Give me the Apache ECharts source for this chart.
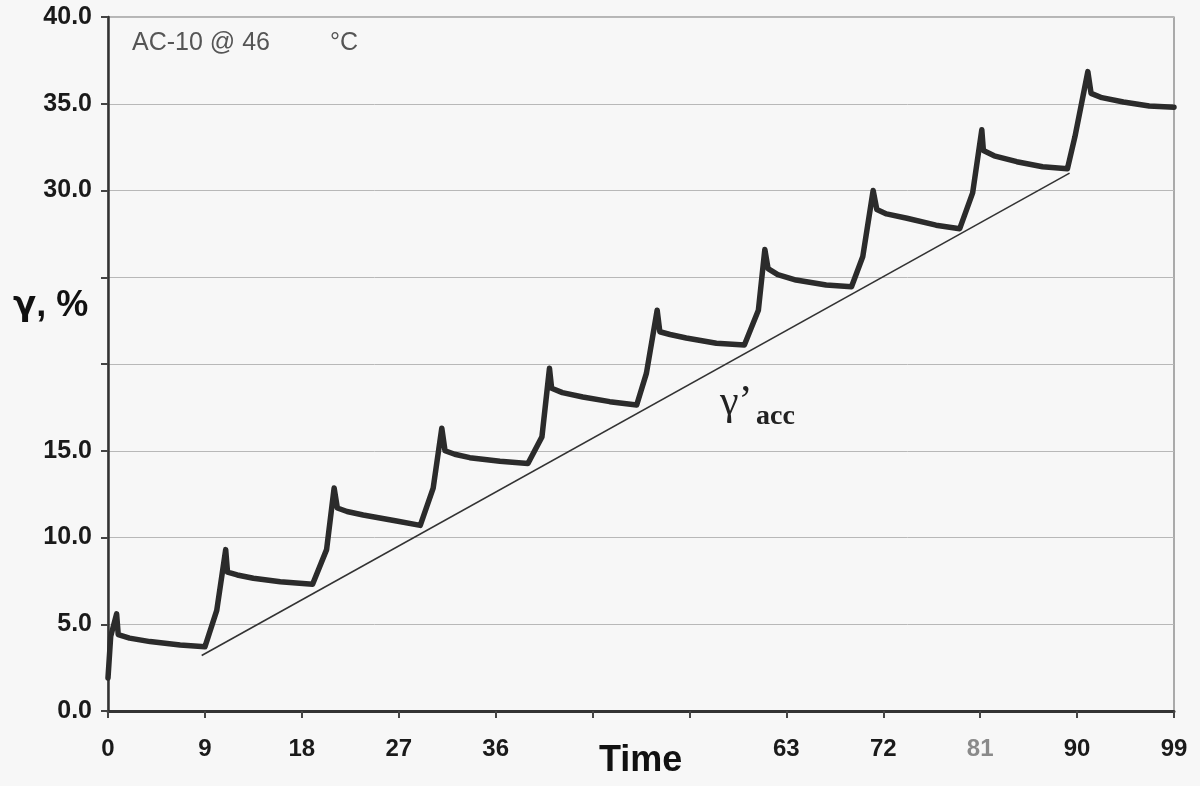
<!DOCTYPE html>
<html>
<head>
<meta charset="utf-8">
<script src="https://cdn.jsdelivr.net/npm/echarts/dist/echarts.min.js"></script>
<style>
  html, body { margin: 0; padding: 0; background: #f7f7f7; }
  #chart { width: 1200px; height: 786px; }
</style>
</head>
<body>
<div id="chart"></div>
<script>
// Shear strain under repeated creep-recovery cycles
const timeValues = [
  0, 0.25, 0.8, 0.95, 2.0, 3.9, 6.7, 9.0,
  10.1, 10.6, 10.93, 11.1, 12.0, 13.5, 16.0, 19.0,
  20.3, 21.0, 21.3, 22.2, 23.7, 26.8, 29.0,
  30.2, 31.0, 31.3, 32.2, 33.6, 36.4, 39.0,
  40.3, 41.0, 41.2, 42.2, 44.1, 46.6, 49.1,
  50.0, 51.0, 51.25, 52.2, 53.7, 56.5, 59.1,
  60.4, 61.0, 61.3, 62.2, 63.9, 66.7, 69.05,
  70.1, 71.06, 71.4, 72.3, 74.2, 76.9, 79.1,
  80.3, 81.15, 81.3, 82.3, 84.4, 86.8, 89.1,
  89.8, 91.0, 91.3, 92.3, 94.3, 96.7, 99.0
];
const strainValues = [
  1.9, 4.3, 5.6, 4.4, 4.2, 4.0, 3.8, 3.7,
  5.8, 7.9, 9.3, 8.0, 7.84, 7.65, 7.45, 7.3,
  9.3, 12.85, 11.7, 11.5, 11.3, 10.95, 10.7,
  12.85, 16.3, 15.0, 14.8, 14.6, 14.4, 14.27,
  15.8, 19.75, 18.6, 18.35, 18.1, 17.83, 17.64,
  19.46, 23.1, 21.86, 21.7, 21.5, 21.2, 21.1,
  23.1, 26.6, 25.5, 25.15, 24.84, 24.55, 24.45,
  26.2, 30.0, 28.9, 28.65, 28.4, 28.0, 27.8,
  29.86, 33.5, 32.3, 32.0, 31.66, 31.37, 31.25,
  33.1, 36.85, 35.6, 35.35, 35.1, 34.87, 34.8
];

// Accumulated strain trend line
const accTime = [8.7, 89.3];
const accStrain = [3.2, 31.0];

// Tick values whose labels are left blank
const hiddenXLabels = [45, 54];
const hiddenYLabels = [20, 25];
const dimXLabels = [81];

const curveData = timeValues.map((t, i) => [t, strainValues[i]]);
const accData = accTime.map((t, i) => [t, accStrain[i]]);

const chart = echarts.init(document.getElementById('chart'), null, { renderer: 'canvas' });

chart.setOption({
  backgroundColor: '#f7f7f7',
  animation: false,
  grid: {
    left: 108, right: 26, top: 17, bottom: 75,
    containLabel: false,
    outerBoundsMode: 'none',
    show: true, borderColor: '#777', borderWidth: 1.2, backgroundColor: 'transparent'
  },
  xAxis: {
    type: 'value',
    min: 0, max: 99, interval: 9,
    axisLine: { show: true, onZero: false, lineStyle: { color: '#333', width: 3 } },
    axisTick: { show: true, length: 7, lineStyle: { color: '#444', width: 2 } },
    splitLine: { show: false },
    axisLabel: {
      margin: 26,
      fontFamily: 'Liberation Sans, Arial',
      fontSize: 24,
      fontWeight: 'bold',
      color: '#1a1a1a',
      formatter: v => {
        if (hiddenXLabels.includes(v)) return '';
        if (dimXLabels.includes(v)) return '{dim|' + v + '}';
        return String(v);
      },
      rich: {
        dim: { fontFamily: 'Liberation Sans, Arial', fontSize: 24, color: '#8a8a8a' }
      }
    }
  },
  yAxis: {
    type: 'value',
    min: 0, max: 40, interval: 5,
    axisLine: { show: true, onZero: false, lineStyle: { color: '#333', width: 2.5 } },
    axisTick: { show: true, length: 7, lineStyle: { color: '#444', width: 2 } },
    splitLine: { show: true, lineStyle: { color: '#b8b8b8', width: 1 } },
    axisLabel: {
      margin: 16,
      fontFamily: 'Liberation Sans, Arial',
      fontSize: 25,
      fontWeight: 'bold',
      color: '#1a1a1a',
      formatter: v => hiddenYLabels.includes(v) ? '' : v.toFixed(1)
    }
  },
  series: [
    {
      type: 'line',
      data: accData,
      showSymbol: false,
      lineStyle: { color: '#333', width: 1.6 },
      z: 2
    },
    {
      type: 'line',
      data: curveData,
      showSymbol: false,
      lineStyle: { color: '#2b2b2b', width: 5.5, join: 'round', cap: 'round' },
      z: 3
    }
  ],
  graphic: [
    {
      type: 'text', left: 132, top: 31,
      style: { text: 'AC-10 @ 46', font: '25px "Liberation Sans", Arial', fill: '#555' }
    },
    {
      type: 'text', left: 330, top: 31,
      style: { text: '°C', font: '25px "Liberation Sans", Arial', fill: '#555' }
    },
    {
      type: 'text', left: 13, top: 288,
      style: {
        text: '{g|γ}, %',
        font: 'bold 36px "Liberation Sans", Arial', fill: '#111',
        rich: { g: { fontFamily: 'DejaVu Sans', fontWeight: 'bold', fontSize: 34, fill: '#111' } }
      }
    },
    {
      type: 'text', left: 599, top: 743,
      style: { text: 'Time', font: 'bold 36px "Liberation Sans", Arial', fill: '#111' }
    },
    {
      type: 'text', left: 720, top: 382,
      style: { text: 'γ’', font: '42px "Liberation Serif", "Times New Roman", serif', fill: '#222' }
    },
    {
      type: 'text', left: 756, top: 403,
      style: { text: 'acc', font: 'bold 28px "Liberation Serif", "Times New Roman", serif', fill: '#222' }
    }
  ]
});
</script>
</body>
</html>
